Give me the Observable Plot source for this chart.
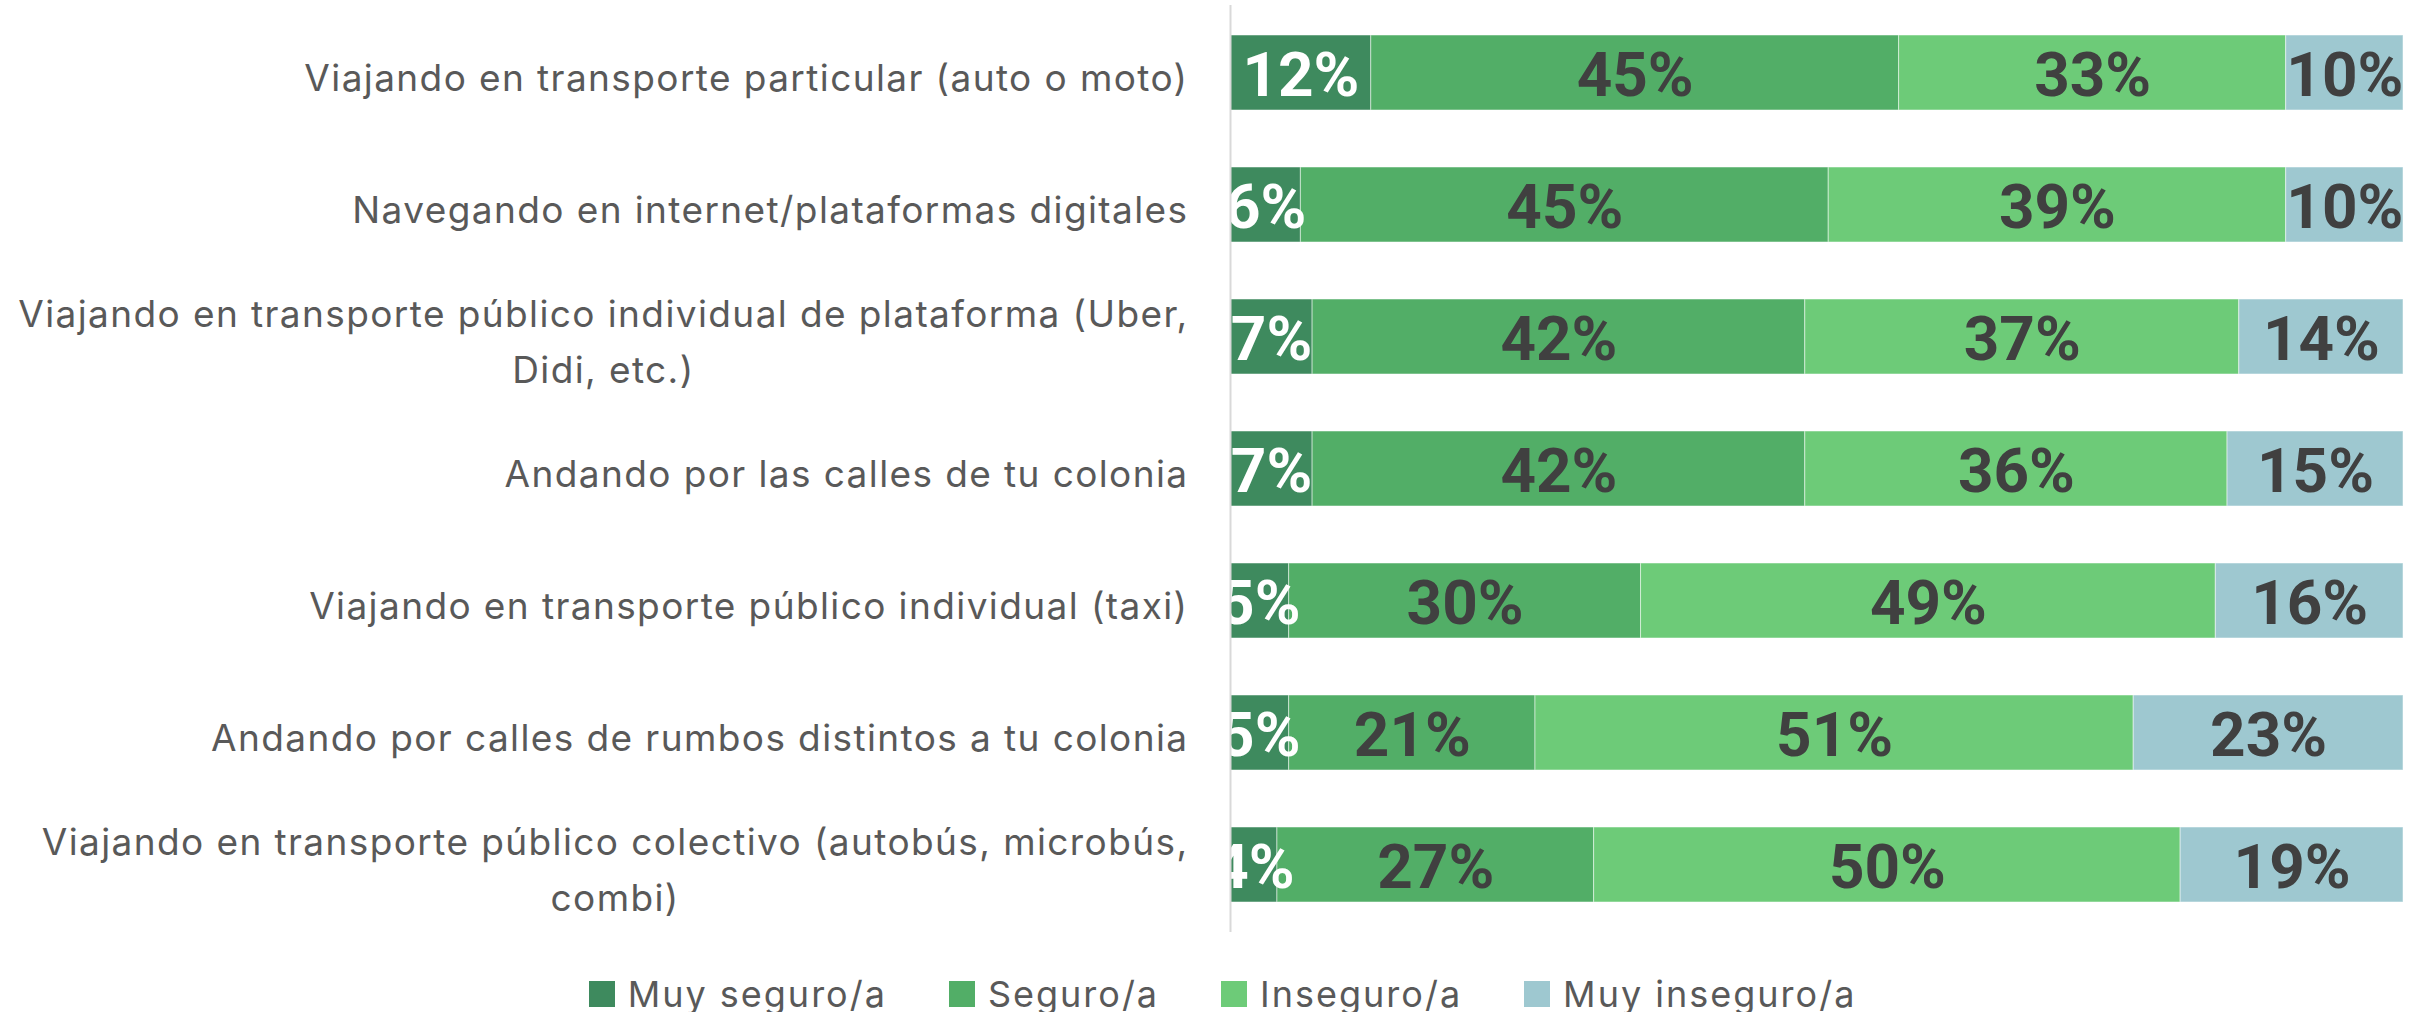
<!DOCTYPE html>
<html><head><meta charset="utf-8">
<script src="https://cdn.jsdelivr.net/npm/d3@7"></script>
<script src="https://cdn.jsdelivr.net/npm/@observablehq/plot@0.6"></script>
<style>
body{margin:0;background:#fff;}
#legend{display:flex;justify-content:center;align-items:center;margin-top:16px;height:36px;line-height:36px;font-family:Inter, sans-serif;font-size:36px;letter-spacing:2px;color:#595959;padding-left:20px;overflow:visible}
.item{display:flex;align-items:center;margin:0 31px}
.sw{width:26px;height:26px;margin-right:13px}
</style></head><body>
<div id="chart"></div>
<div id="legend"></div>
<script>
const categories = [
  "Viajando en transporte particular (auto o moto)",
  "Navegando en internet/plataformas digitales",
  "Viajando en transporte público individual de plataforma (Uber, Didi, etc.)",
  "Andando por las calles de tu colonia",
  "Viajando en transporte público individual (taxi)",
  "Andando por calles de rumbos distintos a tu colonia",
  "Viajando en transporte público colectivo (autobús, microbús, combi)"
];
const tickLabels = [
  "Viajando en transporte particular (auto o moto)",
  "Navegando en internet/plataformas digitales",
  "Viajando en transporte público individual de plataforma (Uber,\nDidi, etc.)",
  "Andando por las calles de tu colonia",
  "Viajando en transporte público individual (taxi)",
  "Andando por calles de rumbos distintos a tu colonia",
  "Viajando en transporte público colectivo (autobús, microbús,\ncombi)"
];
const levels = ["Muy seguro/a", "Seguro/a", "Inseguro/a", "Muy inseguro/a"];
const colors = ["#3e8a5e", "#52ae67", "#6dcb78", "#9ec8d0"];
const muySeguro   = [12, 6, 7, 7, 5, 5, 4];
const seguro      = [45, 45, 42, 42, 30, 21, 27];
const inseguro    = [33, 39, 37, 36, 49, 51, 50];
const muyInseguro = [10, 10, 14, 15, 16, 23, 19];
const series = [muySeguro, seguro, inseguro, muyInseguro];

const rows = categories.flatMap((c, i) => levels.map((l, j) => ({cat: c, level: l, value: series[j][i], color: colors[j]})));

const chart = Plot.plot({
  width: 2425, height: 960,
  marginLeft: 1230, marginRight: 22, marginTop: 5, marginBottom: 28,
  style: {background: "white"},
  x: {domain: [0, 100], axis: null},
  y: {domain: categories, axis: null, paddingInner: 0.434, paddingOuter: 0.217},
  color: {type: "identity"},
  marks: [
    Plot.barX(rows, Plot.stackX({x: "value", y: "cat", z: "level", fill: "color", stroke: "white", strokeWidth: 1, strokeOpacity: 0.5})),
    Plot.text(rows, Plot.stackX({x: "value", y: "cat", z: "level", text: d => d.value + "%",
      fill: d => d.level === levels[0] ? "white" : "#404040", dy: 3,
      fontSize: 62, fontWeight: 700, fontFamily: "Roboto, sans-serif", clip: true})),
    Plot.ruleX([0], {stroke: "#d9d9d9", strokeWidth: 2}),
    Plot.text(categories, {x: () => 0, y: d => d, text: (d, i) => tickLabels[i], textAnchor: "middle",
      lineHeight: 1.5, fontSize: 37, fontFamily: "Inter, sans-serif", fill: "#595959"})
  ]
});
document.getElementById("chart").appendChild(chart);
const textGroups = chart.querySelectorAll('g[aria-label="text"]');
const labelGroup = textGroups[textGroups.length - 1];
labelGroup.style.letterSpacing = "1.4px";
labelGroup.querySelectorAll("text").forEach(t => {
  const w = t.getBBox().width;
  const tr = t.getAttribute("transform") || "";
  t.setAttribute("transform", tr + ` translate(${-42 - w / 2},0)`);
});

const legend = document.getElementById("legend");
levels.forEach((l, j) => {
  const item = document.createElement("div");
  item.className = "item";
  item.innerHTML = `<span class="sw" style="background:${colors[j]}"></span><span>${l}</span>`;
  legend.appendChild(item);
});
</script>
</body></html>
